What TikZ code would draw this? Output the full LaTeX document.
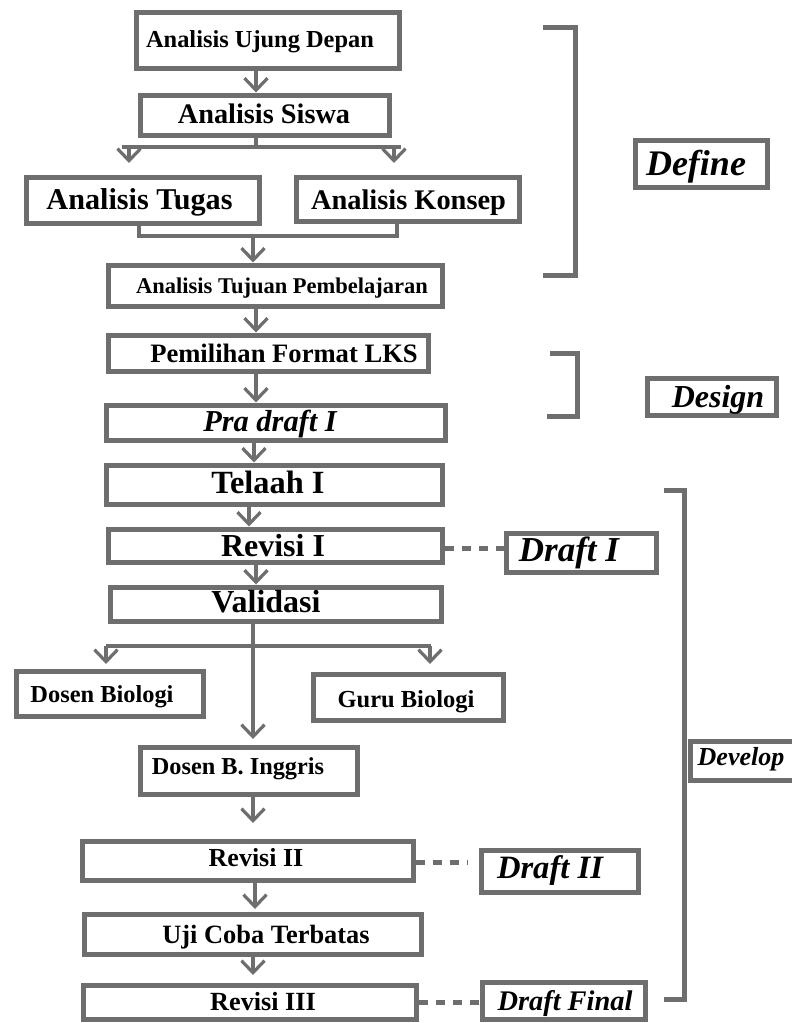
\documentclass[tikz,border=0pt]{standalone}
\usepackage{fontspec}
\setmainfont{Liberation Serif}
\usetikzlibrary{arrows.meta,calc}
\definecolor{ln}{RGB}{110,110,110}
\newcommand{\myfs}[1]{\fontsize{#1}{#1}\selectfont}
\tikzset{
  box/.style={draw=ln, line width=5pt, inner sep=0pt, fill=white},
  lbl/.style={anchor=base, inner sep=0pt, text=black},
  arr/.style={draw=ln, line width=4pt, -{Straight Barb[length=12pt,width=23pt,line width=3.2pt]}},
  lnk/.style={draw=ln, line width=4.5pt},
  brk/.style={draw=ln, line width=5pt, line join=miter},
  dsh/.style={draw=ln, line width=5pt, dash pattern=on 9pt off 8pt},
}
\begin{document}
\begin{tikzpicture}[x=1pt,y=-1pt]
\useasboundingbox (0,0) rectangle (792,1023);
\clip (0,0) rectangle (792,1023);
\fill[white] (0,0) rectangle (792,1023);

% boxes
\node[box, minimum width=263pt, minimum height=56pt] (ujung) at (267.5,40) {};
\node[box, minimum width=249pt, minimum height=40pt] (siswa) at (264.5,115) {};
\node[box, minimum width=233pt, minimum height=46pt] (tugas) at (142.5,200) {};
\node[box, minimum width=223pt, minimum height=44pt] (konsep) at (407.5,199) {};
\node[box, minimum width=334pt, minimum height=41pt] (tujuan) at (275,285.5) {};
\node[box, minimum width=320pt, minimum height=36pt] (pemilihan) at (268,353) {};
\node[box, minimum width=339pt, minimum height=35pt] (pra) at (275.5,422.5) {};
\node[box, minimum width=336pt, minimum height=39pt] (telaah) at (274,484.5) {};
\node[box, minimum width=334pt, minimum height=33pt] (rev1) at (275,545.5) {};
\node[box, minimum width=331pt, minimum height=34pt] (valid) at (275.5,604) {};
\node[box, minimum width=187pt, minimum height=45pt] (dbio) at (109.5,693.5) {};
\node[box, minimum width=190pt, minimum height=46pt] (guru) at (408,697) {};
\node[box, minimum width=217pt, minimum height=47pt] (ingg) at (248.5,770.5) {};
\node[box, minimum width=331pt, minimum height=39pt] (rev2) at (247.5,860.5) {};
\node[box, minimum width=337pt, minimum height=40pt] (uji) at (252.5,934) {};
\node[box, minimum width=333pt, minimum height=34pt] (rev3) at (249.5,1002) {};
\node[box, minimum width=150pt, minimum height=39pt] (dr1) at (581,552.5) {};
\node[box, minimum width=157pt, minimum height=42pt] (dr2) at (559.5,871) {};
\node[box, minimum width=163pt, minimum height=37pt] (drf) at (563.5,1000.5) {};
\node[box, minimum width=132pt, minimum height=47pt] (define) at (701,163.5) {};
\node[box, minimum width=129pt, minimum height=37pt] (design) at (711.5,396.5) {};
\node[box, minimum width=107pt, minimum height=39pt] (develop) at (743.5,760.5) {};

% texts
\node[lbl, font=\bfseries\myfs{24.4}] (tujung) at (260,47) {Analisis Ujung Depan};
\node[lbl, font=\bfseries\myfs{28.3}] (tsiswa) at (264,123) {Analisis Siswa};
\node[lbl, font=\bfseries\myfs{30.2}] (ttugas) at (139.5,209) {Analisis Tugas};
\node[lbl, font=\bfseries\myfs{28.4}] (tkonsep) at (408.5,209) {Analisis Konsep};
\node[lbl, font=\bfseries\myfs{22.5}] (ttujuan) at (282,293) {Analisis Tujuan Pembelajaran};
\node[lbl, font=\bfseries\myfs{26.6}] (tpem) at (284,362) {Pemilihan Format LKS};
\node[lbl, font=\bfseries\itshape\myfs{30.4}] (tpra) at (270,431) {Pra draft I};
\node[lbl, font=\bfseries\myfs{32.4}] (ttelaah) at (268,493) {Telaah I};
\node[lbl, font=\bfseries\myfs{32}] (trev1) at (273,556) {Revisi I};
\node[lbl, font=\bfseries\myfs{32}] (tvalid) at (266,612) {Validasi};
\node[lbl, font=\bfseries\myfs{24.4}] (tdbio) at (102,702) {Dosen Biologi};
\node[lbl, font=\bfseries\myfs{24.5}] (tguru) at (406,707) {Guru Biologi};
\node[lbl, font=\bfseries\myfs{24.3}] (tingg) at (238,774) {Dosen B. Inggris};
\node[lbl, font=\bfseries\myfs{26}] (trev2) at (256,866) {Revisi II};
\node[lbl, font=\bfseries\myfs{26.4}] (tuji) at (266,943) {Uji Coba Terbatas};
\node[lbl, font=\bfseries\myfs{26.2}] (trev3) at (263,1010) {Revisi III};
\node[lbl, font=\bfseries\itshape\myfs{35}] (tdr1) at (569,561) {Draft I};
\node[lbl, font=\bfseries\itshape\myfs{32.6}] (tdr2) at (550,878) {Draft II};
\node[lbl, font=\bfseries\itshape\myfs{28.4}] (tdrf) at (565,1010) {Draft Final};
\node[lbl, font=\bfseries\itshape\myfs{36}] (tdefine) at (696,175) {Define};
\node[lbl, font=\bfseries\itshape\myfs{32}] (tdesign) at (718,407) {Design};
\node[lbl, font=\bfseries\itshape\myfs{26}] (tdevelop) at (741,765) {Develop};

% helper coordinates
\coordinate (x256) at (256,0);
\coordinate (x254) at (254,0);
\coordinate (x253) at (253,0);
\coordinate (x249) at (249,0);
\coordinate (b1L) at (122,147);
\coordinate (b1R) at (401,147);
\coordinate (a1L) at (129,163);
\coordinate (a1R) at (394,163);
\coordinate (m1L) at (139,236);
\coordinate (m1R) at (397,236);
\coordinate (b2L) at (106,646);
\coordinate (b2R) at (431,646);
\coordinate (a2L) at (106,664);
\coordinate (a2R) at (430,664);
\coordinate (a2C) at (253,739);
\coordinate (a3) at (253,823);
\coordinate (a4) at (255,909);
\coordinate (a5) at (253,975);
\coordinate (yd1) at (0,548);
\coordinate (d2end) at (467,862);
\coordinate (yd3) at (0,1002);

% define part
\draw[arr] (ujung.south -| x256) -- (siswa.north -| x256);
\draw[lnk] (siswa.south -| x256) -- (b1L -| x256);
\draw[lnk] (b1L) -- (b1R);
\draw[arr] (b1L -| a1L) -- (a1L);
\draw[arr] (b1R -| a1R) -- (a1R);
\draw[lnk] (tugas.south -| m1L) -- (m1L) -- (m1R) -- (konsep.south -| m1R);
\draw[arr] (m1L -| x253) -- (tujuan.north -| x253);

% main chain
\draw[arr] (tujuan.south -| x256) -- (pemilihan.north -| x256);
\draw[arr] (pemilihan.south -| x256) -- (pra.north -| x256);
\draw[arr] (pra.south -| x254) -- (telaah.north -| x254);
\draw[arr] (telaah.south -| x249) -- (rev1.north -| x249);
\draw[arr] (rev1.south -| x256) -- (valid.north -| x256);

% validation split
\draw[lnk] (valid.south -| x253) -- (b2L -| x253);
\draw[lnk] (b2L) -- (b2R);
\draw[arr] (b2L) -- (a2L);
\draw[arr] (b2R -| a2R) -- (a2R);
\draw[arr] (b2L -| a2C) -- (a2C);
\draw[arr] (ingg.south -| a3) -- (a3);
\draw[arr] (rev2.south -| a4) -- (a4);
\draw[arr] (uji.south -| a5) -- (a5);

% dashed links
\draw[dsh] (rev1.east |- yd1) -- (dr1.west |- yd1);
\draw[dsh] (rev2.east |- d2end) -- (d2end);
\draw[dsh] (rev3.east |- yd3) -- (drf.west |- yd3);

% brackets
\draw[brk] (543,27) -- (575,27) -- (575,275) -- (543,275);
\draw[brk] (550,353) -- (577,353) -- (577,416) -- (547,416);
\draw[brk] (664,490) -- (684,490) -- (684,999) -- (664,999);
\end{tikzpicture}
\end{document}
